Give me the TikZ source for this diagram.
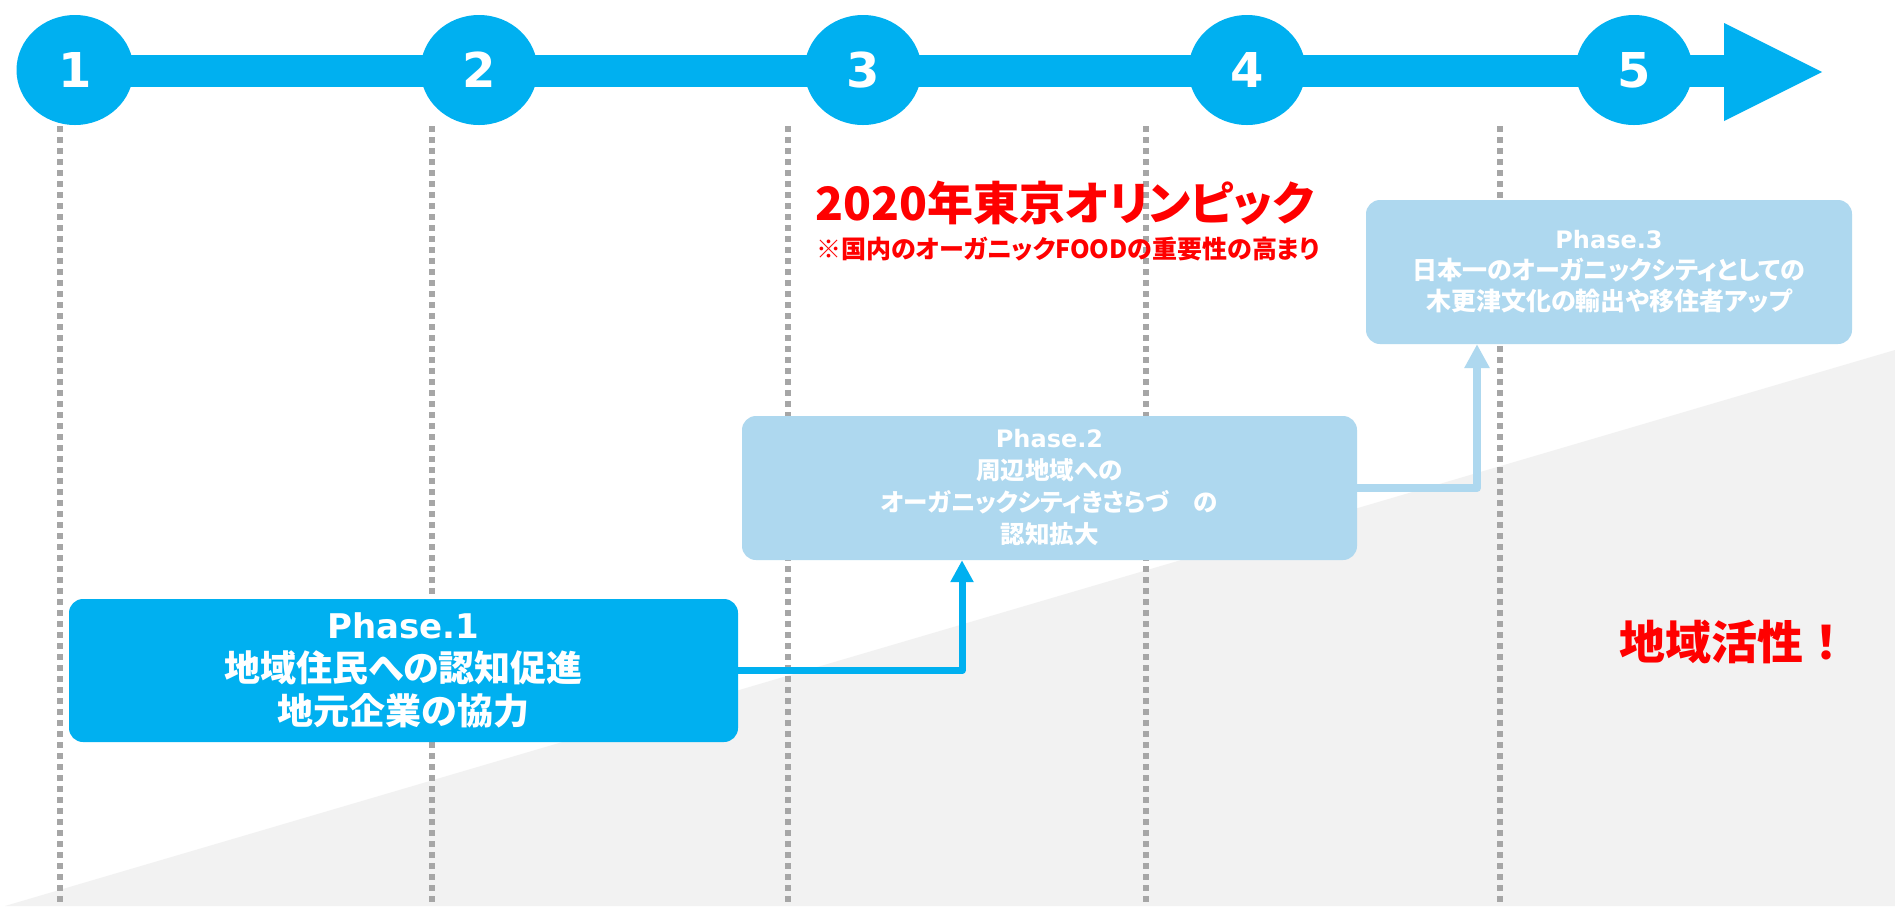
\documentclass[tikz,border=0pt]{standalone}
\usepackage{fontspec}
\setmainfont{DejaVu Sans}
\newfontfamily\jp[RawFeature=+palt]{Noto Sans CJK JP}
\newfontfamily\jpfull{Noto Sans CJK JP}
\newfontfamily\dv{DejaVu Sans}
\usetikzlibrary{arrows.meta,shapes.geometric}
\definecolor{axisblue}{HTML}{00B0F0}
\definecolor{paleblue}{HTML}{AED8EF}
\definecolor{bggray}{HTML}{F2F2F2}
\definecolor{dotgray}{HTML}{A6A6A6}
\definecolor{hotred}{HTML}{FF0000}
\begin{document}
\begin{tikzpicture}[x=1pt,y=-1pt,
  numcircle/.style={ellipse,fill=axisblue,minimum width=117pt,minimum height=110pt,inner sep=0pt,text=white,font=\dv\bfseries\fontsize{48}{48}\selectfont},
  gridline/.style={draw=dotgray,line width=5.5pt,dash pattern=on 6pt off 5pt},
  phasebox/.style={rounded corners=14pt,inner sep=0pt,align=center,text=white},
  phaseone/.style={phasebox,fill=axisblue,minimum width=669pt,minimum height=143pt,font=\jp\bfseries\fontsize{36}{43}\selectfont},
  phasetwo/.style={phasebox,fill=paleblue,minimum width=615pt,minimum height=144pt,font=\jp\bfseries\fontsize{24.5}{32}\selectfont},
  phasethree/.style={phasebox,fill=paleblue,minimum width=486pt,minimum height=144pt,font=\jp\bfseries\fontsize{25}{31}\selectfont},
  connone/.style={draw=axisblue,line width=7pt,line join=round,-{Triangle[length=22pt,width=22pt]}},
  conntwo/.style={draw=paleblue,line width=8pt,line join=round,-{Triangle[length=24pt,width=24pt]}},
  redtext/.style={text=hotred,inner sep=0pt}
]
\useasboundingbox (0,0) rectangle (1895,906);
\fill[white] (0,0) rectangle (1895,906);
% gray rising background
\fill[bggray] (5,906) -- (1895,350) -- (1895,906) -- cycle;
% dotted grid lines
\coordinate (g1t) at (60,126);   \coordinate (g1b) at (60,906);
\coordinate (g2t) at (432,126);  \coordinate (g2b) at (432,906);
\coordinate (g3t) at (788,126);  \coordinate (g3b) at (788,906);
\coordinate (g4t) at (1146,126); \coordinate (g4b) at (1146,906);
\coordinate (g5t) at (1500,126); \coordinate (g5b) at (1500,906);
\draw[gridline] (g1t) -- (g1b);
\draw[gridline] (g2t) -- (g2b);
\draw[gridline] (g3t) -- (g3b);
\draw[gridline] (g4t) -- (g4b);
\draw[gridline] (g5t) -- (g5b);
% timeline axis
\fill[axisblue] (75,55) rectangle (1730,87);
\fill[axisblue] (1724,23) -- (1822,72) -- (1724,121) -- cycle;
\node[numcircle] (c1) at (75,70) {1};
\node[numcircle] (c2) at (479,70) {2};
\node[numcircle] (c3) at (863,70) {3};
\node[numcircle] (c4) at (1247,70) {4};
\node[numcircle] (c5) at (1634,70) {5};
% red headings
\node[redtext,anchor=west,font=\jp\bfseries\fontsize{46}{46}\selectfont] (title) at (815,203) {2020年東京オリンピック};
\node[redtext,anchor=west,font=\jp\bfseries\fontsize{25}{25}\selectfont] (subtitle) at (816,249) {※国内のオーガニックFOODの重要性の高まり};
\node[redtext,anchor=west,font=\jpfull\bfseries\fontsize{46}{46}\selectfont] (vital) at (1619,642) {地域活性！};
% phase boxes
\node[phaseone] (p1) at (403.5,670.5) {{\dv\bfseries\fontsize{34}{43}\selectfont Phase.1}\\地域住民への認知促進\\地元企業の協力};
\node[phasetwo] (p2) at (1049.5,488) {{\dv\bfseries\fontsize{24}{32}\selectfont Phase.2}\\周辺地域への\\オーガニックシティきさらづ　の\\認知拡大};
\node[phasethree] (p3) at (1609,272) {{\dv\bfseries\fontsize{24}{31}\selectfont Phase.3}\\日本一のオーガニックシティとしての\\木更津文化の輸出や移住者アップ};
% connectors
\draw[connone] (p1.east) -| ([xshift=-87.5pt]p2.south);
\draw[conntwo] (p2.east) -| ([xshift=-132pt]p3.south);
\end{tikzpicture}
\end{document}
